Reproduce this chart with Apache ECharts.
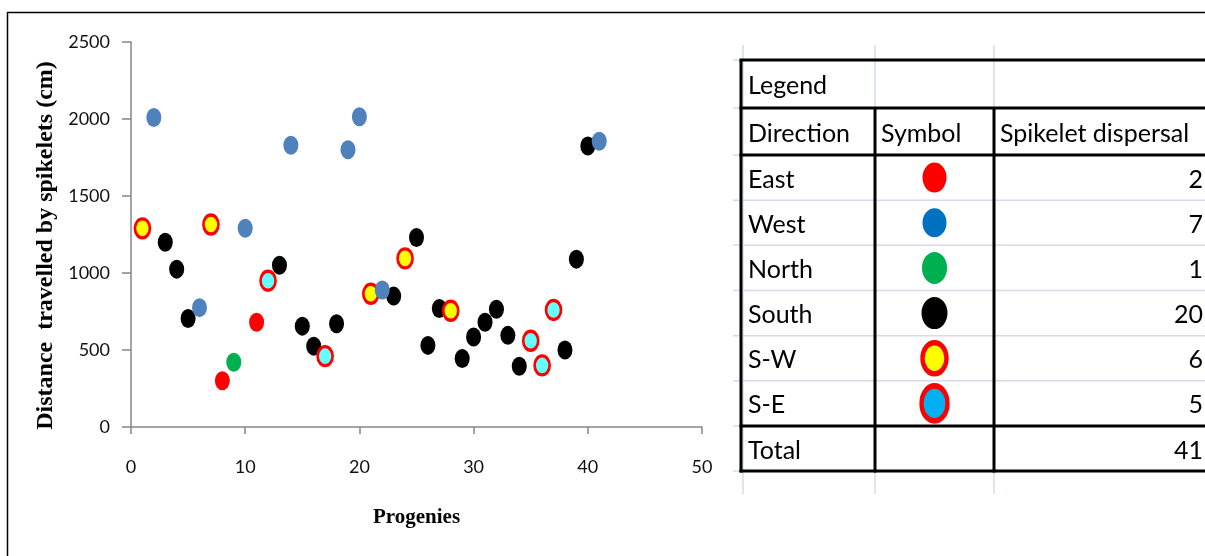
<!DOCTYPE html>
<html>
<head>
<meta charset="utf-8">
<script src="https://cdn.jsdelivr.net/npm/echarts@6/dist/echarts.min.js"></script>
<style>
html,body{margin:0;padding:0;background:#fff;}
#chart{width:1205px;height:556px;}
</style>
</head>
<body>
<div id="chart"></div>
<script>
// ---- data ----
const xTicks = [0, 10, 20, 30, 40, 50];
const yTicks = [0, 500, 1000, 1500, 2000, 2500];
const south = [[3,1200],[4,1025],[5,705],[13,1050],[15,655],[16,525],[18,670],[23,850],[25,1230],[26,530],[27,770],[29,445],[30,585],[31,680],[32,765],[33,595],[34,395],[38,500],[39,1090],[40,1825]];
const east = [[8,300],[11,680]];
const north = [[9,420]];
const southWest = [[1,1290],[7,1315],[21,865],[24,1095],[28,755]];
const southEast = [[12,950],[17,460],[35,560],[36,400],[37,760]];
const west = [[2,2010],[6,775],[10,1290],[14,1830],[19,1800],[20,2015],[22,890],[41,1855]];

const legendTitle = 'Legend';
const tableHeaders = ['Direction', 'Symbol', 'Spikelet dispersal'];
const directions = ['East', 'West', 'North', 'South', 'S-W', 'S-E'];
const counts = [2, 7, 1, 20, 6, 5];
const totalLabel = 'Total';
const totalCount = 41;

// ---- styles ----
const styleChart = {
  'South': {color:'#000000'},
  'East': {color:'#FF0000'},
  'North': {color:'#00B050'},
  'S-W': {color:'#FFFF00', borderColor:'#FF0000', borderWidth:3},
  'S-E': {color:'#66FFFF', borderColor:'#FF0000', borderWidth:3},
  'West': {color:'#4F81BD'}
};
const styleTable = {
  'East': {style:{color:'#FF0000', opacity:1}, size:[24,30]},
  'West': {style:{color:'#0070C0', opacity:1}, size:[24,29]},
  'North': {style:{color:'#00B050', opacity:1}, size:[25,32]},
  'South': {style:{color:'#000000', opacity:1}, size:[26,32]},
  'S-W': {style:{color:'#FFFF00', borderColor:'#FF0000', borderWidth:5, opacity:1}, size:[24,31]},
  'S-E': {style:{color:'#00B0F0', borderColor:'#FF0000', borderWidth:5, opacity:1}, size:[26,35]}
};

const seriesDefs = [
  ['South', south], ['East', east], ['North', north],
  ['S-W', southWest], ['S-E', southEast], ['West', west]
];

// ---- table layout ----
const tL = 741, c1 = 875, c2 = 994, tR = 1205;
const rowY = [60, 108, 155, 200.2, 245.3, 290.5, 335.7, 380.8, 426, 471];
const gridColor = '#d5dbe8';
const g = [];
// outer frame of the chart image
g.push({type:'line', shape:{x1:7, y1:12.5, x2:1205, y2:12.5}, style:{stroke:'#000', lineWidth:1.5}, z:1});
g.push({type:'line', shape:{x1:7.5, y1:12, x2:7.5, y2:556}, style:{stroke:'#000', lineWidth:1.5}, z:1});
// light spreadsheet grid
[743, c1, c2].forEach(x => g.push({type:'line', shape:{x1:x, y1:45, x2:x, y2:494}, style:{stroke:gridColor, lineWidth:1.5}, z:1}));
rowY.forEach(y => g.push({type:'line', shape:{x1:733, y1:y, x2:tR, y2:y}, style:{stroke:gridColor, lineWidth:1.5}, z:1}));
// thick borders
[60, 108, 155, 426, 471].forEach(y => g.push({type:'line', shape:{x1:tL-1.5, y1:y, x2:tR, y2:y}, style:{stroke:'#000', lineWidth:3}, z:2}));
g.push({type:'line', shape:{x1:tL, y1:60, x2:tL, y2:472.5}, style:{stroke:'#000', lineWidth:3}, z:2});
[c1, c2].forEach(x => g.push({type:'line', shape:{x1:x, y1:108, x2:x, y2:472.5}, style:{stroke:'#000', lineWidth:3}, z:2}));

const tFont = '25px Lato';
function txt(t, x, y, align) {
  g.push({type:'text', x:x, y:y, z:3, style:{text:String(t), font:tFont, fill:'#000', align:align || 'left', verticalAlign:'middle'}});
}
txt(legendTitle, 748, (rowY[0] + rowY[1]) / 2 + 2);
txt(tableHeaders[0], 748, (rowY[1] + rowY[2]) / 2 + 2);
txt(tableHeaders[1], 881, (rowY[1] + rowY[2]) / 2 + 2);
txt(tableHeaders[2], 1000, (rowY[1] + rowY[2]) / 2 + 2);
directions.forEach((d, i) => {
  const y = (rowY[2 + i] + rowY[3 + i]) / 2 + 2;
  txt(d, 748, y);
  txt(counts[i], 1203, y, 'right');
});
txt(totalLabel, 748, (rowY[8] + rowY[9]) / 2 + 2);
txt(totalCount, 1203, (rowY[8] + rowY[9]) / 2 + 2, 'right');

const axisFont = {fontFamily:'Lato', fontSize:18, color:'#111', formatter:(v) => String(v)};

const option = {
  backgroundColor:'#fff',
  animation:false,
  graphic:{elements:g},
  grid:[
    {left:131, top:42, width:571, height:385},
    {left:c1, top:155, width:c2 - c1, height:271}
  ],
  xAxis:[
    {type:'value', gridIndex:0, min:xTicks[0], max:xTicks[xTicks.length-1], interval:10,
     name:'Progenies', nameLocation:'middle', nameGap:80,
     nameTextStyle:{fontFamily:'Liberation Serif', fontWeight:'bold', fontSize:21, color:'#000'},
     axisLine:{lineStyle:{color:'#868686', width:1.5}},
     axisTick:{show:true, length:7, inside:false, lineStyle:{color:'#868686', width:1.5}},
     axisLabel:Object.assign({margin:31}, axisFont),
     splitLine:{show:false}},
    {type:'value', gridIndex:1, min:0, max:1, show:false}
  ],
  yAxis:[
    {type:'value', gridIndex:0, min:yTicks[0], max:yTicks[yTicks.length-1], interval:500,
     name:'Distance  travelled by spikelets (cm)', nameLocation:'middle', nameGap:73,
     nameTextStyle:{fontFamily:'Liberation Serif', fontWeight:'bold', fontSize:24, color:'#000', padding:[0, 22, 0, 0]},
     axisLine:{show:true, lineStyle:{color:'#868686', width:1.5}},
     axisTick:{show:true, length:9, inside:false, lineStyle:{color:'#868686', width:1.5}},
     axisLabel:Object.assign({margin:21}, axisFont),
     splitLine:{show:false}},
    {type:'category', gridIndex:1, data:directions, inverse:true, show:false}
  ],
  series: seriesDefs.map(([name, data]) => ({
    name:name, type:'scatter', xAxisIndex:0, yAxisIndex:0,
    symbol:'circle', symbolSize:[15,19], data:data,
    itemStyle:Object.assign({opacity:1}, styleChart[name]),
    emphasis:{disabled:true}
  })).concat([{
    name:'Legend symbols', type:'scatter', xAxisIndex:1, yAxisIndex:1, symbol:'circle',
    data: directions.map(d => ({value:[0.5, d], symbolSize:styleTable[d].size, itemStyle:styleTable[d].style})),
    itemStyle:{opacity:1},
    emphasis:{disabled:true}
  }])
};

const chart = echarts.init(document.getElementById('chart'), null, {renderer:'canvas'});
chart.setOption(option);
</script>
</body>
</html>
